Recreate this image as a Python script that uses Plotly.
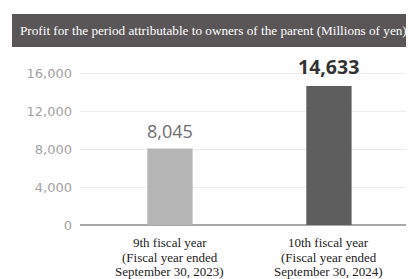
import plotly.graph_objects as go

cat_line1 = ["9th fiscal year", "10th fiscal year"]
cat_line2 = ["(Fiscal year ended", "(Fiscal year ended"]
cat_line3 = ["September 30, 2023)", "September 30, 2024)"]
values = [8045, 14633]
bar_labels = ["8,045", "<b>14,633</b>"]
bar_colors = ["#b5b5b5", "#5e5e5e"]
label_colors = ["#6e6e6e", "#333333"]
label_sizes = [18, 19.5]
y_ticks = [0, 4000, 8000, 12000, 16000]
y_tick_labels = ["0", "4,000", "8,000", "12,000", "16,000"]
title_text = "Profit for the period attributable to owners of the parent (Millions of yen)"

# page has an 8px body margin; work in page pixels and convert
OFF = 8
W, H = 414 - OFF, 279 - OFF
plot_left, plot_right, plot_top, plot_bottom = 80, 414, 60, 225  # page px
ml = plot_left - OFF
mr = 414 - plot_right
mt = plot_top - OFF
mb = 279 - plot_bottom
pw = W - ml - mr
ph = H - mt - mb

def px_x(px):
    return (px - plot_left) / pw

def px_y(py):
    return (plot_bottom - py) / ph

fig = go.Figure()
fig.add_trace(go.Bar(
    x=[0, 1], y=values, width=0.285,
    marker=dict(color=bar_colors, line=dict(width=0)),
    hoverinfo="skip",
))

# value labels above bars
for i, v in enumerate(values):
    fig.add_annotation(xref="x", yref="y", x=i, y=v, yanchor="bottom",
                       xanchor="center", yshift=4, showarrow=False,
                       text=bar_labels[i],
                       font=dict(family="Open Sans", size=label_sizes[i],
                                 color=label_colors[i]))

fig.add_shape(type="rect", xref="paper", yref="paper",
              x0=px_x(12), x1=px_x(416), y0=px_y(47), y1=px_y(14),
              fillcolor="#5a5658", line=dict(width=0), layer="above")
fig.add_annotation(xref="paper", yref="paper", x=px_x(18), y=px_y(30.5),
                   xanchor="left", yanchor="middle", showarrow=False,
                   text=title_text,
                   font=dict(family="Liberation Serif", size=13.2, color="#ffffff"))

# category labels (three lines each, tight spacing)
for i in range(len(values)):
    for line_txt, py in ((cat_line1[i], 242.5), (cat_line2[i], 257.5), (cat_line3[i], 271.5)):
        fig.add_annotation(xref="x", yref="paper", x=i, y=px_y(py),
                           xanchor="center", yanchor="middle", showarrow=False,
                           text=line_txt,
                           font=dict(family="Liberation Serif", size=13, color="#222222"))

fig.update_layout(
    width=W, height=H,
    margin=dict(l=ml, r=mr, t=mt, b=mb, pad=0, autoexpand=False),
    paper_bgcolor="white", plot_bgcolor="white",
    showlegend=False,
    xaxis=dict(range=[-0.566, 1.535], tickvals=[0, 1], showticklabels=False,
               showgrid=False, zeroline=False, showline=False, ticks="",
               automargin=False),
    yaxis=dict(range=[0, 17370], tickvals=y_ticks, ticktext=y_tick_labels,
               showgrid=True, gridcolor="#ececec", gridwidth=1,
               zeroline=True, zerolinecolor="#a8a8a8", zerolinewidth=2,
               showline=False, ticks="", ticklabelstandoff=7, automargin=False,
               tickfont=dict(family="DejaVu Sans", size=13, color="#a3a3a3")),
)

fig.write_html("out.html")
